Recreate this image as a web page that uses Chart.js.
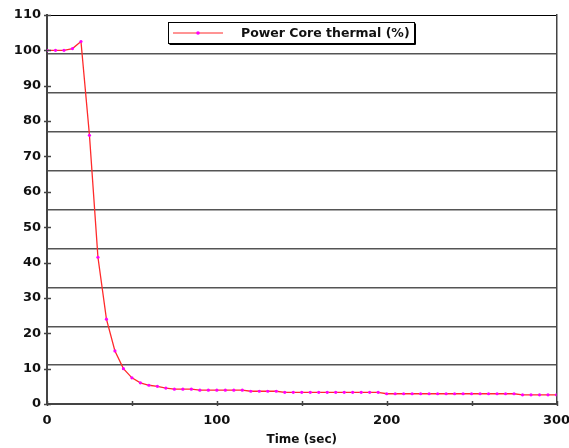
<!DOCTYPE html>
<html>
<head>
<meta charset="utf-8">
<script src="https://cdn.jsdelivr.net/npm/chart.js@4/dist/chart.umd.min.js"></script>
<style>
  body { margin: 0; background: #fff; }
  canvas { display: block; }
</style>
</head>
<body>
<canvas id="c" width="569" height="448"></canvas>
<script>
// sample times (sec) and power core thermal (%)
const times = [0, 5, 10, 15, 20, 25, 30, 35, 40, 45, 50, 55, 60, 65, 70, 75, 80, 85, 90, 95,
  100, 105, 110, 115, 120, 125, 130, 135, 140, 145, 150, 155, 160, 165, 170, 175, 180, 185, 190, 195,
  200, 205, 210, 215, 220, 225, 230, 235, 240, 245, 250, 255, 260, 265, 270, 275, 280, 285, 290, 295, 300];
const thermal = [100, 100, 100, 100.5, 102.5, 76, 41.5, 24, 15, 10, 7.4, 6, 5.3, 5, 4.5, 4.2, 4.2, 4.2, 3.9, 3.9,
  3.9, 3.9, 3.9, 3.9, 3.6, 3.6, 3.6, 3.6, 3.3, 3.3, 3.3, 3.3, 3.3, 3.3, 3.3, 3.3, 3.3, 3.3, 3.3, 3.3,
  2.9, 2.9, 2.9, 2.9, 2.9, 2.9, 2.9, 2.9, 2.9, 2.9, 2.9, 2.9, 2.9, 2.9, 2.9, 2.9, 2.6, 2.6, 2.6, 2.6, 2.6];
const seriesName = "Power Core thermal (%)";
const xTitle = "Time (sec)";

const tickFont = { family: "DejaVu Sans", size: 13, weight: "bold" };
const titleFont = { family: "DejaVu Sans", size: 12, weight: "bold" };

// tick marks crossing the axes + the boxed legend
const extras = {
  id: "extras",
  afterDraw(chart) {
    const ctx = chart.ctx;
    const xs = chart.scales.x, ys = chart.scales.y;
    const x0 = xs.getPixelForValue(0), y0 = ys.getPixelForValue(0);
    ctx.save();
    ctx.strokeStyle = "#444";
    ctx.lineWidth = 1.5;
    ys.ticks.forEach(t => {
      const py = Math.round(ys.getPixelForValue(t.value)) + 0.5;
      ctx.beginPath(); ctx.moveTo(x0 - 3, py); ctx.lineTo(x0 + 4, py); ctx.stroke();
    });
    xs.ticks.forEach(t => {
      const px = Math.round(xs.getPixelForValue(t.value)) + 0.5;
      ctx.beginPath(); ctx.moveTo(px, y0 - 3); ctx.lineTo(px, y0 + 2); ctx.stroke();
    });

    // legend
    const lx = 168.5, ly = 22.5, lw = 246, lh = 21;
    ctx.fillStyle = "#fff";
    ctx.fillRect(lx, ly, lw, lh);
    ctx.strokeStyle = "#000";
    ctx.lineWidth = 1;
    ctx.strokeRect(lx, ly, lw, lh);
    ctx.beginPath();
    ctx.moveTo(lx + lw + 1, ly + 1); ctx.lineTo(lx + lw + 1, ly + lh + 1); ctx.lineTo(lx + 1, ly + lh + 1);
    ctx.stroke();
    const my = ly + lh / 2;
    ctx.strokeStyle = "#ff2a2a";
    ctx.lineWidth = 1.2;
    ctx.beginPath(); ctx.moveTo(173, my); ctx.lineTo(223, my); ctx.stroke();
    ctx.fillStyle = "#ff00ff";
    ctx.beginPath(); ctx.arc(198, my, 1.8, 0, Math.PI * 2); ctx.fill();
    ctx.fillStyle = "#111";
    ctx.font = "bold 12.5px 'DejaVu Sans'";
    ctx.textBaseline = "middle";
    ctx.textAlign = "left";
    ctx.fillText(chart.data.datasets[0].label, 241, my + 0.5);
    ctx.restore();
  }
};

new Chart(document.getElementById("c"), {
  type: "line",
  data: {
    datasets: [{
      label: seriesName,
      data: times.map((t, i) => ({ x: t, y: thermal[i] })),
      borderColor: "#ff2a2a",
      borderWidth: 1.3,
      tension: 0,
      pointRadius: 1.6,
      pointBackgroundColor: "#ff00ff",
      pointBorderColor: "#ff00ff",
      pointBorderWidth: 0
    }]
  },
  options: {
    responsive: false,
    devicePixelRatio: 1,
    animation: false,
    layout: { padding: { top: 15, right: 12.5, left: 0, bottom: 0 } },
    plugins: { legend: { display: false }, tooltip: { enabled: false } },
    scales: {
      x: {
        type: "linear",
        min: 0, max: 300,
        afterFit: s => { s.height = 44; s.paddingLeft = 0; s.paddingRight = 0; },
        ticks: {
          stepSize: 50,
          padding: 9,
          color: "#111",
          font: tickFont,
          maxRotation: 0,
          callback: v => (v % 100 === 0 ? v : "")
        },
        grid: { drawOnChartArea: false, drawTicks: false },
        border: { display: true, color: "#444", width: 2 },
        title: {
          display: true,
          text: xTitle,
          color: "#111",
          font: titleFont,
          padding: { top: 0, bottom: 1 }
        }
      },
      y: {
        min: 0, max: 110,
        afterFit: s => { s.width = 47; },
        ticks: {
          stepSize: 5,
          padding: 6,
          color: "#111",
          font: tickFont,
          callback: v => (v % 10 === 0 ? v : "")
        },
        grid: { drawOnChartArea: false, drawTicks: false },
        border: { display: true, color: "#444", width: 2 }
      },
      y2: {
        position: "right",
        min: 0, max: 110,
        afterFit: s => { s.width = 0; },
        ticks: { stepSize: 11, display: false },
        grid: {
          drawTicks: false,
          color: c => (c.tick && c.tick.value === 110 ? "#000" : "#555"),
          lineWidth: c => (c.tick && c.tick.value === 110 ? 1 : 1.4)
        },
        border: { display: true, color: "#444", width: 1.5 }
      }
    }
  },
  plugins: [extras]
});
</script>
</body>
</html>
